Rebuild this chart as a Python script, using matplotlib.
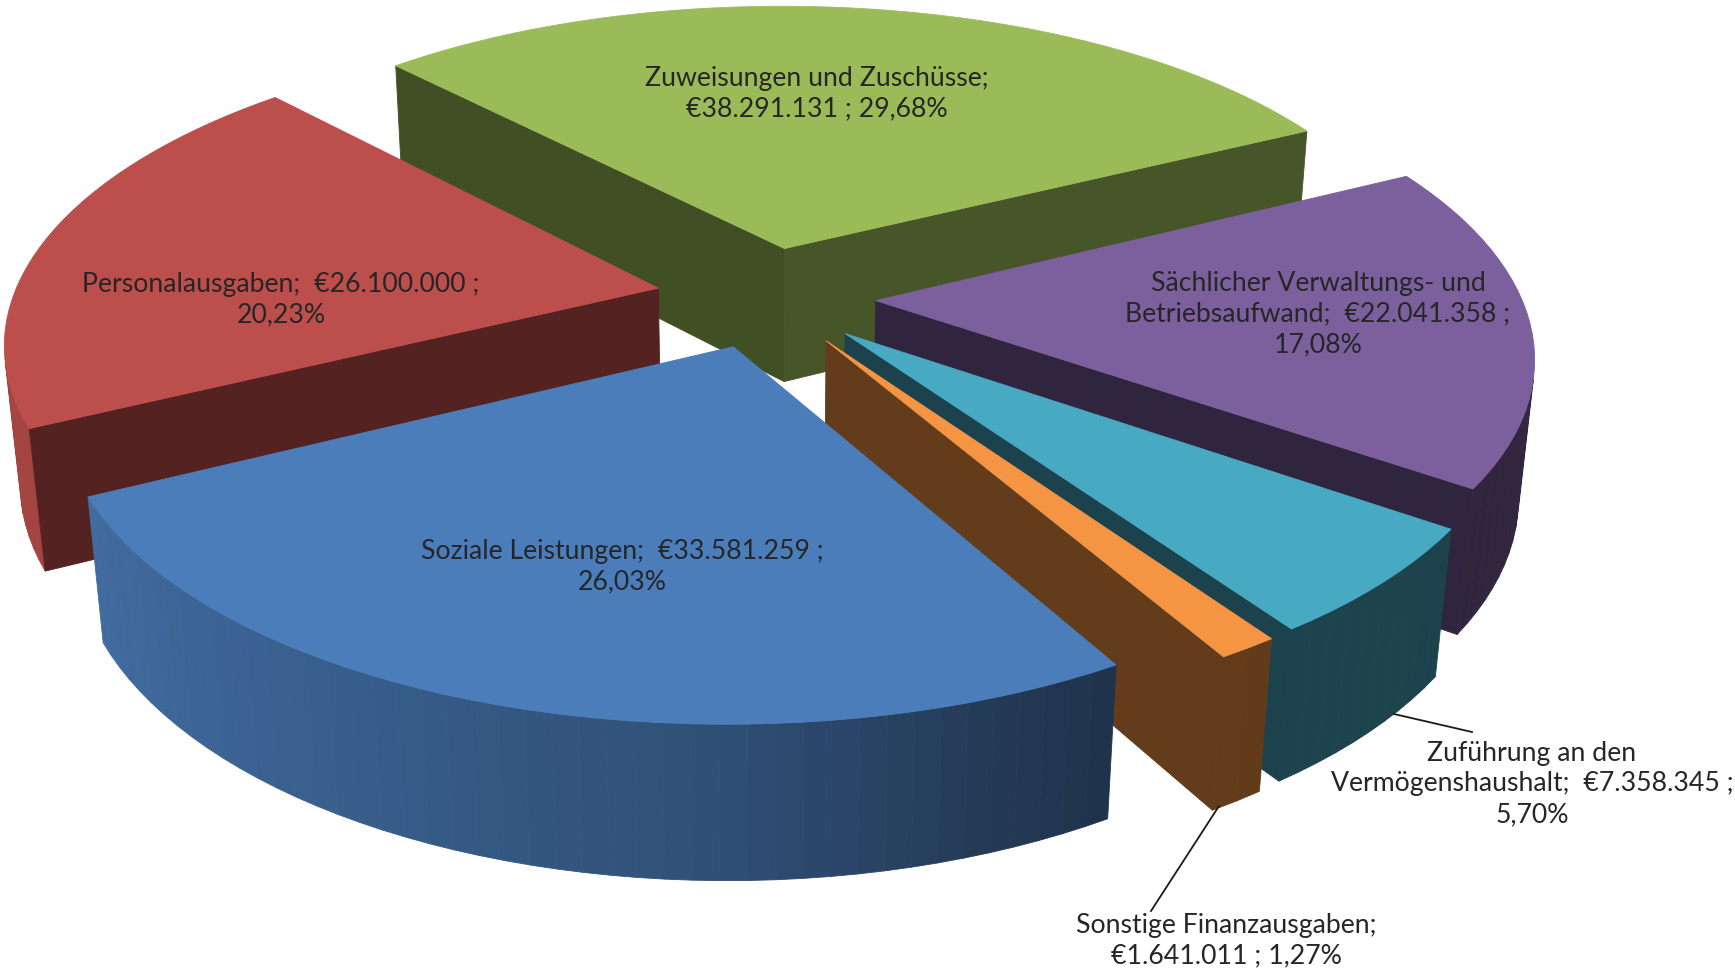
#!/usr/bin/env python
# coding: utf-8
from matplotlib import pyplot as plt
import numpy as np

plt.rcParams['font.family'] = ['Lato', 'DejaVu Sans']

# slices in drawing order of the chart (clockwise from the start angle)
names = ['Soziale Leistungen', 'Personalausgaben', 'Zuweisungen und Zuschüsse',
         'Sächlicher Verwaltungs- und Betriebsaufwand',
         'Zuführung an den Vermögenshaushalt', 'Sonstige Finanzausgaben']
values = [33581259, 26100000, 38291131, 22041358, 7358345, 1641011]
colors = ['#4B7DBA', '#BC4E4B', '#9BBB59', '#7C609E', '#48A9C3', '#F59543']
labels = ['Soziale Leistungen;  €33.581.259 ;\n26,03%',
          'Personalausgaben;  €26.100.000 ;\n20,23%',
          'Zuweisungen und Zuschüsse;\n€38.291.131 ; 29,68%',
          'Sächlicher Verwaltungs- und\nBetriebsaufwand;  €22.041.358 ;\n17,08%',
          'Zuführung an den\nVermögenshaushalt;  €7.358.345 ;\n5,70%',
          'Sonstige Finanzausgaben;\n€1.641.011 ; 1,27%']
label_pos = [(622, 567), (281, 300), (817, 94), (1318, 314), (1532, 784), (1226, 941)]
leaders = {4: ((1394, 714), (1472, 732)), 5: ((1219, 806), (1151, 911))}
# darkness of the cut faces
start_shade = [0.42, 0.44, 0.42, 0.42, 0.40, 0.40]
end_shade = [0.42, 0.44, 0.46, 0.39, 0.395, 0.40]

# back to front
draw_order = [2, 1, 3, 4, 5, 0]

start_angle = 150.0
radius = 0.91
explode = 0.155
height = 0.22

# camera
elev = np.radians(27.4)
dist = 4.9
scale = 709.0
cx, cy = 766.0, 297.0

# shade of the outer wall by angle
shade_ang = [0, 125, 150, 165, 180, 210, 245, 360]
shade_val = [0.39, 0.395, 0.40, 0.50, 0.63, 0.75, 0.87, 0.90]


def project(x, y, z):
    yc = y * np.sin(elev) + z * np.cos(elev)
    w = dist + y * np.cos(elev) - z * np.sin(elev)
    f = scale * dist
    return cx + f * x / w, cy - f * yc / w


def area(xs, ys):
    xs, ys = np.asarray(xs), np.asarray(ys)
    return np.sum(xs * np.roll(ys, -1) - np.roll(xs, -1) * ys)


def dark(col, k):
    return tuple(np.array(plt.matplotlib.colors.to_rgb(col)) * k)


def wall(ax, p1, p2, col):
    # p1, p2 are (x, y) on the plane; only drawn if it faces the viewer
    xs, ys = project(np.array([p1[0], p2[0], p2[0], p1[0]]),
                     np.array([p1[1], p2[1], p2[1], p1[1]]),
                     np.array([0, 0, -height, -height]))
    if area(xs, ys) < 0:
        ax.fill(xs, ys, color=col, lw=0.6)


fig = plt.figure(figsize=(17.35, 9.69), dpi=100)
ax = fig.add_axes([0, 0, 1, 1])
ax.set_xlim(0, 1735)
ax.set_ylim(969, 0)
ax.axis('off')

total = sum(values)
ends = start_angle + np.cumsum(values) / total * 360
starts = ends - np.array(values) / total * 360

for i in draw_order:
    a0, a1 = np.radians(starts[i]), np.radians(ends[i])
    mid = (a0 + a1) / 2
    ox, oy = explode * np.sin(mid), explode * np.cos(mid)
    th = np.linspace(a0, a1, max(int(np.degrees(a1 - a0) / 2), 2) + 1)
    ex, ey = ox + radius * np.sin(th), oy + radius * np.cos(th)

    # outer wall in narrow bands
    for j in range(len(th) - 1):
        k = np.interp(np.degrees((th[j] + th[j + 1]) / 2) % 360, shade_ang, shade_val)
        wall(ax, (ex[j], ey[j]), (ex[j + 1], ey[j + 1]), dark(colors[i], k))

    # the two cut faces
    wall(ax, (ox, oy), (ex[0], ey[0]), dark(colors[i], start_shade[i]))
    wall(ax, (ex[-1], ey[-1]), (ox, oy), dark(colors[i], end_shade[i]))

    # top
    tx, ty = project(np.r_[ox, ex], np.r_[oy, ey], 0.0)
    ax.fill(tx, ty, color=colors[i], lw=0.6)

for i, (px, py) in enumerate(label_pos):
    ax.text(px, py, labels[i], ha='center', va='center', fontsize=19.2,
            color='#262626', linespacing=1.27, zorder=5)

for p, q in leaders.values():
    ax.plot([p[0], q[0]], [p[1], q[1]], color='#1a1a1a', lw=1.3, zorder=4)

fig.savefig('out.png', dpi=100)
